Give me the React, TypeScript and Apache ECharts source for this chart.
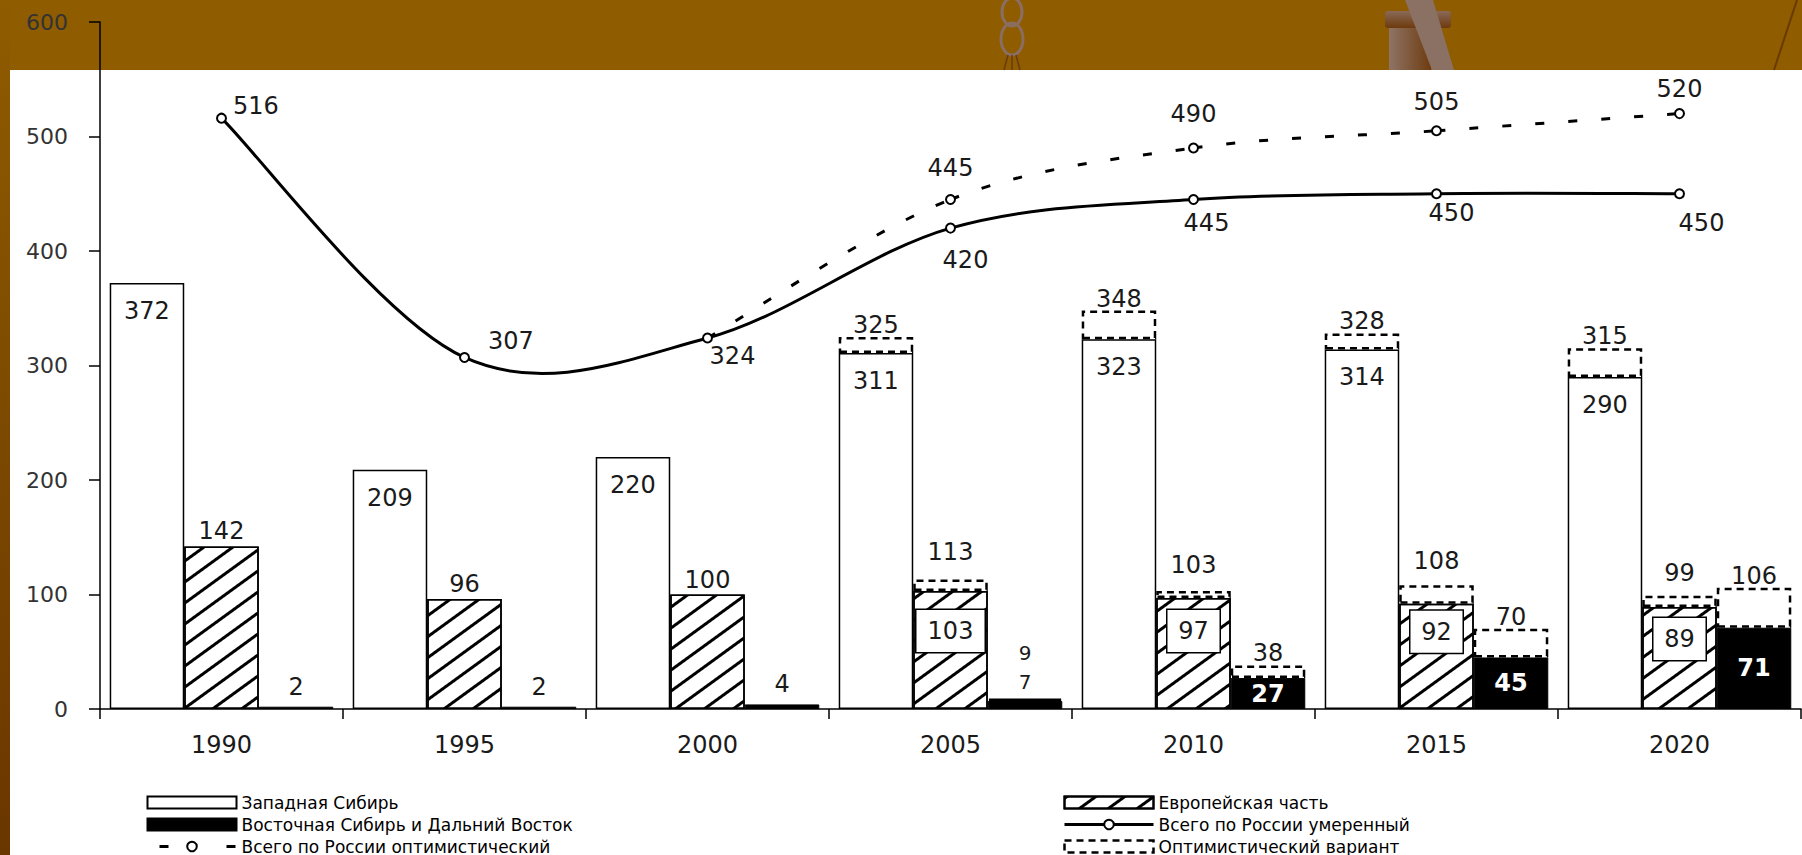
import React, { useEffect, useRef } from 'react';
import * as echarts from 'echarts';

// ---------- data ----------
const years = ['1990', '1995', '2000', '2005', '2010', '2015', '2020'];
const westSiberia = [372, 209, 220, 311, 323, 314, 290];
const europeanPart = [142, 96, 100, 103, 97, 92, 89];
const eastSiberia = [2, 2, 4, 7, 27, 45, 71];
const westOptimistic = [null, null, null, 325, 348, 328, 315];
const europeanOptimistic = [null, null, null, 113, 103, 108, 99];
const eastOptimistic = [null, null, null, 9, 38, 70, 106];
const totalModerate = [516, 307, 324, 420, 445, 450, 450];
const totalOptimistic = [null, null, 324, 445, 490, 505, 520];

const NAME_WEST = 'Западная Сибирь';
const NAME_EAST = 'Восточная Сибирь и Дальний Восток';
const NAME_OPT_LINE = 'Всего по России оптимистический';
const NAME_EURO = 'Европейская часть';
const NAME_MOD_LINE = 'Всего по России умеренный';
const NAME_OPT_BAR = 'Оптимистический вариант';

// ---------- label layout (style only) ----------
const modLineLabelLayout: any[] = [
  { position: 'right', distance: 6, offset: [0, -12] },
  { position: 'right', distance: 18, offset: [0, -16] },
  { position: 'bottom', distance: 0, offset: [25, 0] },
  { position: 'bottom', distance: 14, offset: [15, 0] },
  { position: 'bottom', distance: 6, offset: [13, 0] },
  { position: 'bottom', distance: 2, offset: [15, 0] },
  { position: 'bottom', distance: 12, offset: [22, 0] },
];
const optLineLabelDistance = [0, 0, 0, 14, 16, 11, 7];
const euroBoxDistance = [0, 0, 0, 19, 12, 7, 11];
const euroBoxWidth = [0, 0, 0, 64, 48, 48, 48];
const euroOptLabelDistance = [0, 0, 0, 16, 14, 12, 11];

const FONT = 'DejaVu Sans';
const TXT = '#1a1a1a';
const OPT_DASH = [9, 24];

function curveSeries(values: (number | null)[], dash: number[] | null) {
  return {
    type: 'custom',
    z: 4,
    silent: true,
    data: values.map((v, i) => [i, v == null ? 0 : v]),
    encode: { x: 0, y: 1 },
    renderItem: (params: any, api: any) => {
      const i = params.dataIndex;
      const n = values.length;
      if (values[i] == null || i + 1 >= n || values[i + 1] == null) return null;
      const pt = (k: number) => api.coord([k, values[k]]);
      const p1 = pt(i);
      const p2 = pt(i + 1);
      const p0 = i - 1 >= 0 && values[i - 1] != null ? pt(i - 1) : p1;
      const p3 = i + 2 < n && values[i + 2] != null ? pt(i + 2) : p2;
      const t = 1 / 6;
      return {
        type: 'bezierCurve',
        shape: {
          x1: p1[0],
          y1: p1[1],
          x2: p2[0],
          y2: p2[1],
          cpx1: p1[0] + (p2[0] - p0[0]) * t,
          cpy1: p1[1] + (p2[1] - p0[1]) * t,
          cpx2: p2[0] - (p3[0] - p1[0]) * t,
          cpy2: p2[1] - (p3[1] - p1[1]) * t,
        },
        style: {
          stroke: '#000',
          lineWidth: 3,
          fill: 'none',
          lineDash: dash || undefined,
        },
      };
    },
  };
}

function buildOption() {
  const inc = (opt: (number | null)[], base: number[]) =>
    opt.map((v, i) => (v == null ? null : v - base[i]));

  const barCommon = { type: 'bar', barGap: '0%', barCategoryGap: '8%' };
  const incStyle = {
    color: 'rgba(255,255,255,0)',
    borderColor: '#000',
    borderWidth: 2.5,
    borderType: [7, 5],
  };
  const labelBase = { fontFamily: FONT, fontSize: 24, color: TXT };

  const westSeries = {
    ...barCommon,
    name: NAME_WEST,
    stack: 'west',
    data: westSiberia,
    itemStyle: { color: '#fff', borderColor: '#000', borderWidth: 1.5 },
    label: { show: true, position: 'insideTop', distance: 16, ...labelBase },
  };
  const westInc = {
    ...barCommon,
    name: NAME_OPT_BAR,
    stack: 'west',
    data: inc(westOptimistic, westSiberia),
    itemStyle: incStyle,
    label: {
      show: true,
      position: 'top',
      distance: 0,
      ...labelBase,
      formatter: (p: any) => String(westOptimistic[p.dataIndex]),
    },
  };

  const euroData = europeanPart.map((v, i) => {
    if (europeanOptimistic[i] == null) {
      return { value: v, label: { position: 'top', distance: 3 } };
    }
    return {
      value: v,
      label: {
        position: 'insideTop',
        distance: euroBoxDistance[i],
        backgroundColor: '#fff',
        borderColor: '#000',
        borderWidth: 1.5,
        width: euroBoxWidth[i],
        height: 42,
        lineHeight: 42,
        align: 'center',
        padding: [0, 2],
      },
    };
  });
  const euroSeries = {
    ...barCommon,
    name: NAME_EURO,
    stack: 'euro',
    data: euroData,
    itemStyle: {
      color: '#fff',
      borderColor: '#000',
      borderWidth: 1.5,
      decal: {
        symbol: 'rect',
        symbolSize: 1,
        color: '#000',
        backgroundColor: '#fff',
        dashArrayX: [1, 0],
        dashArrayY: [3, 14],
        rotation: -Math.PI * 0.2,
      },
    },
    label: { show: true, ...labelBase },
  };
  const euroIncValues = inc(europeanOptimistic, europeanPart);
  const euroInc = {
    ...barCommon,
    name: NAME_OPT_BAR,
    stack: 'euro',
    data: euroIncValues.map((d, i) =>
      d == null
        ? null
        : {
            value: d,
            label: {
              show: true,
              position: 'top',
              distance: euroOptLabelDistance[i],
              offset: [0, 0],
            },
          }
    ),
    itemStyle: incStyle,
    label: {
      show: true,
      position: 'top',
      ...labelBase,
      formatter: (p: any) => String(europeanOptimistic[p.dataIndex]),
    },
  };

  const eastData = eastSiberia.map((v, i) => {
    const o = eastOptimistic[i];
    if (o == null) {
      return { value: v, label: { position: 'top', distance: 8 } };
    }
    if (o - v < 5) {
      return {
        value: v,
        label: { position: 'top', distance: 9, fontSize: 20, lineHeight: 20 },
      };
    }
    return {
      value: v,
      label: { position: 'inside', color: '#fff', fontWeight: 'bold' },
    };
  });
  const eastSeries = {
    ...barCommon,
    name: NAME_EAST,
    stack: 'east',
    data: eastData,
    itemStyle: { color: '#000', borderColor: '#000', borderWidth: 1 },
    label: { show: true, ...labelBase },
  };
  const eastIncData = eastOptimistic.map((o, i) => {
    if (o == null) return null;
    const d = o - eastSiberia[i];
    return d < 5
      ? { value: d, label: { distance: 36, fontSize: 20, lineHeight: 20 } }
      : d;
  });
  const eastInc = {
    ...barCommon,
    name: NAME_OPT_BAR,
    stack: 'east',
    data: eastIncData,
    itemStyle: incStyle,
    label: {
      show: true,
      position: 'top',
      distance: 0,
      ...labelBase,
      formatter: (p: any) => String(eastOptimistic[p.dataIndex]),
    },
  };

  const modLine = {
    type: 'line',
    name: NAME_MOD_LINE,
    z: 5,
    symbol: 'emptyCircle',
    symbolSize: 9,
    data: totalModerate.map((v, i) => ({
      value: v,
      label: { show: true, ...labelBase, ...modLineLabelLayout[i] },
    })),
    lineStyle: { color: '#000', width: 3, opacity: 0 },
    itemStyle: { color: '#000', borderColor: '#000', borderWidth: 1.5 },
  };

  const optLine = {
    type: 'line',
    name: NAME_OPT_LINE,
    z: 5,
    symbol: 'emptyCircle',
    symbolSize: 9,
    data: totalOptimistic.map((v, i) => {
      if (v == null) return null;
      if (i === 2) {
        return { value: v, symbol: 'none', label: { show: false } };
      }
      return {
        value: v,
        label: {
          show: true,
          position: 'top',
          distance: optLineLabelDistance[i],
          ...labelBase,
        },
      };
    }),
    lineStyle: { color: '#000', width: 3, type: OPT_DASH, opacity: 0 },
    itemStyle: { color: '#000', borderColor: '#000', borderWidth: 1.5 },
  };

  const legendCommon = {
    orient: 'vertical',
    top: 789,
    height: 64,
    itemWidth: 89,
    itemHeight: 12,
    itemGap: 5,
    selectedMode: false,
    textStyle: { fontFamily: FONT, fontSize: 17, color: '#000' },
  };

  const graphicEls: any[] = [
    {
      type: 'rect',
      z: -20,
      shape: { x: 0, y: 0, width: 10, height: 855 },
      style: {
        fill: {
          type: 'linear', x: 0, y: 0, x2: 0, y2: 1,
          colorStops: [
            { offset: 0, color: '#8f5c00' },
            { offset: 1, color: '#6a3600' },
          ],
        },
      },
    },
    {
      type: 'rect',
      z: -20,
      shape: { x: 10, y: 70, width: 1792, height: 785 },
      style: { fill: '#fff' },
    },
    {
      type: 'ellipse',
      z: -19,
      shape: { cx: 1012, cy: 12, rx: 10, ry: 14 },
      style: { fill: 'none', stroke: '#8a6e62', lineWidth: 3 },
    },
    {
      type: 'ellipse',
      z: -19,
      shape: { cx: 1012, cy: 39, rx: 11, ry: 16 },
      style: { fill: 'none', stroke: '#8a6e62', lineWidth: 3 },
    },
    { type: 'line', z: -19, shape: { x1: 1008, y1: 55, x2: 1004, y2: 70 }, style: { stroke: '#6a3a10', lineWidth: 1.5 } },
    { type: 'line', z: -19, shape: { x1: 1012, y1: 55, x2: 1012, y2: 70 }, style: { stroke: '#6a3a10', lineWidth: 1.5 } },
    { type: 'line', z: -19, shape: { x1: 1016, y1: 55, x2: 1020, y2: 70 }, style: { stroke: '#6a3a10', lineWidth: 1.5 } },
    {
      type: 'rect',
      z: -19,
      shape: { x: 1389, y: 26, width: 42, height: 44 },
      style: {
        fill: {
          type: 'linear', x: 0, y: 0, x2: 1, y2: 0,
          colorStops: [
            { offset: 0, color: '#8e7466' },
            { offset: 1, color: '#6e3c10' },
          ],
        },
      },
    },
    {
      type: 'rect',
      z: -18,
      shape: { x: 1385, y: 11, width: 66, height: 17, r: 3 },
      style: {
        fill: {
          type: 'linear', x: 0, y: 0, x2: 0, y2: 1,
          colorStops: [
            { offset: 0, color: '#8a6a58' },
            { offset: 1, color: '#6e3a0c' },
          ],
        },
      },
    },
    {
      type: 'polygon',
      z: -17,
      shape: { points: [[1405, 0], [1433, 0], [1454, 70], [1432, 70]] },
      style: { fill: '#8b7064' },
    },
    { type: 'line', z: -19, shape: { x1: 1797, y1: 0, x2: 1774, y2: 70 }, style: { stroke: '#6a3a00', lineWidth: 2 } },
  ];

  return {
    animation: false,
    backgroundColor: 'transparent',
    textStyle: { fontFamily: FONT },
    graphic: { elements: graphicEls },
    grid: { left: 100, right: 1, top: 22, bottom: 146, containLabel: false },
    xAxis: {
      type: 'category',
      data: years,
      axisLine: { lineStyle: { color: '#000', width: 1.5 } },
      axisTick: { show: true, length: 10, lineStyle: { color: '#000', width: 1.5 } },
      axisLabel: { fontFamily: FONT, fontSize: 24, color: TXT, margin: 24 },
      splitLine: { show: false },
    },
    yAxis: {
      type: 'value',
      min: 0,
      max: 600,
      interval: 100,
      axisLine: { show: true, lineStyle: { color: '#000', width: 1.5 } },
      axisTick: { show: true, length: 11, lineStyle: { color: '#000', width: 1.5 } },
      axisLabel: { fontFamily: FONT, fontSize: 22, color: '#333', margin: 32 },
      splitLine: { show: false },
    },
    legend: [
      {
        ...legendCommon,
        left: 141,
        data: [
          { name: NAME_WEST, icon: 'rect' },
          { name: NAME_EAST, icon: 'rect' },
          {
            name: NAME_OPT_LINE,
            lineStyle: { opacity: 1, width: 3, color: '#000', type: [9, 58], dashOffset: 55 },
          },
        ],
      },
      {
        ...legendCommon,
        left: 1058,
        data: [
          { name: NAME_EURO, icon: 'rect' },
          { name: NAME_MOD_LINE, lineStyle: { opacity: 1, width: 3, color: '#000', type: 'solid' } },
          {
            name: NAME_OPT_BAR,
            icon: 'rect',
            itemStyle: { borderType: [7, 5], borderWidth: 2.5, borderColor: '#000' },
          },
        ],
      },
    ],
    series: [
      westSeries,
      westInc,
      euroSeries,
      euroInc,
      eastSeries,
      eastInc,
      curveSeries(totalModerate, null),
      curveSeries(totalOptimistic, OPT_DASH),
      modLine,
      optLine,
    ],
  };
}

export default function App() {
  const ref = useRef<HTMLDivElement>(null);
  useEffect(() => {
    if (!ref.current) return;
    const chart = echarts.init(ref.current, null, { renderer: 'svg' });
    chart.setOption(buildOption() as any);
    return () => chart.dispose();
  }, []);
  return (
    <div
      ref={ref}
      style={{
        position: 'fixed',
        left: 0,
        top: 0,
        width: 1802,
        height: 855,
        background: '#8f5c00',
      }}
    />
  );
}
